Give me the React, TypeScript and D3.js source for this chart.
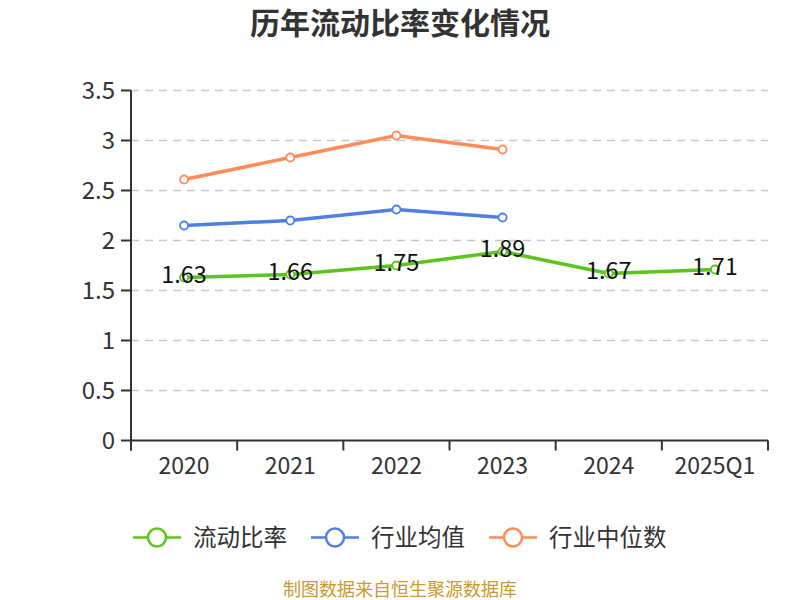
import React from "react";
import * as d3 from "d3";

const categories = ["2020", "2021", "2022", "2023", "2024", "2025Q1"];
const currentRatio = [1.63, 1.66, 1.75, 1.89, 1.67, 1.71];
const industryAvg = [2.15, 2.2, 2.31, 2.23];
const industryMedian = [2.61, 2.83, 3.05, 2.91];
const yTicks = [0, 0.5, 1, 1.5, 2, 2.5, 3, 3.5];

const series = [
  { name: "流动比率", values: currentRatio, color: "#5bc41d" },
  { name: "行业均值", values: industryAvg, color: "#4d80e2" },
  { name: "行业中位数", values: industryMedian, color: "#ff8b5a" },
];

const W = 800;
const H = 600;
const margin = { top: 90.5, right: 32, bottom: 159.5, left: 131 };
const font = "'Noto Sans CJK SC', 'Noto Sans', sans-serif";

export default function App() {
  const x = d3
    .scaleBand<string>()
    .domain(categories)
    .range([margin.left, W - margin.right]);
  const y = d3
    .scaleLinear()
    .domain([0, 3.5])
    .range([H - margin.bottom, margin.top]);

  const cx = (i: number) => (x(categories[i]) ?? 0) + x.bandwidth() / 2;

  const line = d3
    .line<number>()
    .x((_, i) => cx(i))
    .y(d => y(d));

  const x0 = margin.left;
  const x1 = W - margin.right;
  const yBase = y(0);

  // legend icon start x
  const legendX = [133, 311, 489];

  return (
    <div style={{ position: "fixed", left: 0, top: 0 }}>
      <svg width={W} height={H} style={{ display: "block", background: "#fff" }}>
        <text
          x={W / 2}
          y={34}
          textAnchor="middle"
          fontFamily={font}
          fontWeight="bold"
          fontSize={30}
          fill="#333"
        >
          历年流动比率变化情况
        </text>

        {/* grid lines */}
        {yTicks.filter(t => t > 0).map(t => (
          <line
            key={"g" + t}
            x1={x0}
            x2={x1}
            y1={y(t)}
            y2={y(t)}
            stroke="#c8c8c8"
            strokeWidth={1.5}
            strokeDasharray="8,6"
          />
        ))}

        {/* y axis */}
        <line x1={x0} x2={x0} y1={margin.top} y2={yBase + 10} stroke="#333" strokeWidth={2} />
        {yTicks.map(t => (
          <g key={"y" + t}>
            <line x1={x0 - 10} x2={x0} y1={y(t)} y2={y(t)} stroke="#333" strokeWidth={2} />
            <text
              x={x0 - 16}
              y={y(t)}
              dy="0.35em"
              textAnchor="end"
              fontFamily={font}
              fontSize={24}
              fill="#333"
            >
              {t}
            </text>
          </g>
        ))}

        {/* x axis */}
        <line x1={x0} x2={x1} y1={yBase} y2={yBase} stroke="#333" strokeWidth={2} />
        {categories.map(c => (
          <line
            key={"xt" + c}
            x1={x(c) ?? 0}
            x2={x(c) ?? 0}
            y1={yBase}
            y2={yBase + 10}
            stroke="#333"
            strokeWidth={2}
          />
        ))}
        <line x1={x1} x2={x1} y1={yBase} y2={yBase + 10} stroke="#333" strokeWidth={2} />
        {categories.map((c, i) => (
          <text
            key={"xl" + c}
            x={cx(i)}
            y={474}
            textAnchor="middle"
            fontFamily={font}
            fontSize={23}
            fill="#333"
          >
            {c}
          </text>
        ))}

        {/* series */}
        {series.map(s => (
          <g key={s.name}>
            <path d={line(s.values) ?? ""} fill="none" stroke={s.color} strokeWidth={3.5} />
            {s.values.map((v, i) => (
              <circle
                key={i}
                cx={cx(i)}
                cy={y(v)}
                r={4}
                fill="#fff"
                stroke={s.color}
                strokeWidth={1.8}
              />
            ))}
          </g>
        ))}

        {/* data labels */}
        {currentRatio.map((v, i) => (
          <text
            key={"lab" + i}
            x={cx(i)}
            y={y(v) - 3}
            dy="0.35em"
            textAnchor="middle"
            fontFamily={font}
            fontSize={23.5}
            fill="#111"
          >
            {v.toFixed(2)}
          </text>
        ))}

        {/* legend */}
        {series.map((s, i) => (
          <g key={"lg" + s.name} transform={`translate(${legendX[i]},537.5)`}>
            <line x1={0} x2={48} y1={0} y2={0} stroke={s.color} strokeWidth={2.5} />
            <circle cx={24} cy={0} r={9} fill="#fff" stroke={s.color} strokeWidth={2.5} />
            <text
              x={60}
              y={0}
              dy="0.35em"
              fontFamily={font}
              fontSize={23.5}
              fill="#333"
            >
              {s.name}
            </text>
          </g>
        ))}

        <text
          x={W / 2}
          y={590}
          dy="0.35em"
          textAnchor="middle"
          fontFamily={font}
          fontSize={18}
          fill="#cc9933"
        >
          制图数据来自恒生聚源数据库
        </text>
      </svg>
    </div>
  );
}
